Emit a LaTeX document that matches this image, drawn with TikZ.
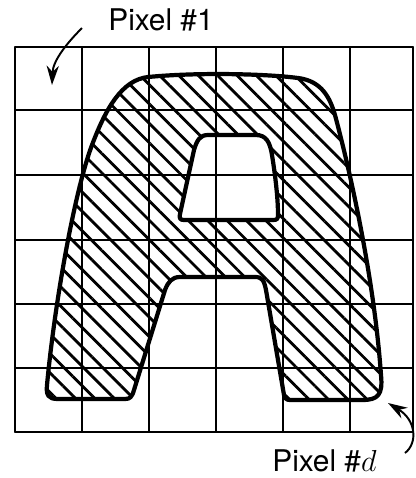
\documentclass[tikz,border=0pt]{standalone}
\usepackage{fontspec}
\setmainfont{TeX Gyre Heros}
\usetikzlibrary{arrows.meta, patterns.meta}

\begin{document}
\begin{tikzpicture}[
    x=0.02cm, y=-0.02cm,
    gridline/.style={line width=1.1pt, line cap=round},
    letter/.style={draw, line width=2.4pt, line join=round, even odd rule,
      pattern={Lines[angle=-45, distance=7.8pt, line width=1.6pt]}},
    callout/.style={line width=1.1pt, -{Stealth[length=11pt, width=7pt]}},
    tag/.style={font=\fontsize{17pt}{20pt}\selectfont, inner sep=0pt, anchor=base west}
  ]
  \useasboundingbox (0,0) rectangle (416,478);
  \fill[white] (0,0) rectangle (416,478);

  % Pixel grid
  \foreach \gx in {15,82,149,216,283,350,413}
    \draw[gridline] (\gx,47) -- (\gx,432);
  \foreach \gy in {47,110,175,240,304,368,432}
    \draw[gridline] (15,\gy) -- (413,\gy);

  % Letter A (outer contour + counter)
  \path[letter]
    (148,77) .. controls (200,72) and (268,74) .. (298,78)
    .. controls (322,81) and (330,98) .. (335,115)
    .. controls (355,190) and (375,290) .. (381,375)
    .. controls (383,395) and (378,400) .. (362,400)
    -- (290,400)
    .. controls (286,400) and (285,398) .. (284,395)
    -- (266,290)
    .. controls (264,280) and (262,277) .. (255,277)
    -- (180,277)
    .. controls (172,277) and (168,282) .. (165,290)
    -- (134,390)
    .. controls (132,397) and (130,399) .. (125,399)
    -- (58,399)
    .. controls (48,399) and (46,395) .. (47,385)
    .. controls (55,300) and (75,190) .. (92,145)
    .. controls (106,108) and (122,80) .. (148,77) -- cycle
    (208,135) -- (256,135)
    .. controls (266,135) and (270,142) .. (272,155)
    .. controls (276,180) and (278,200) .. (278,215)
    .. controls (278,219) and (277,220) .. (273,220)
    -- (184,220)
    .. controls (180,220) and (179,218) .. (180,214)
    -- (194,150)
    .. controls (197,140) and (200,135) .. (208,135) -- cycle;

  % Labels
  \node[tag] (pixfirst) at (108,30) {Pixel \#1};
  \node[tag] (pixlast) at (272,471) {Pixel \#$d$};
  \coordinate (firsttail) at (82,28);
  \coordinate (firstcell) at (52,85);
  \coordinate (lasttail) at (405,453);
  \coordinate (lastcell) at (388,403);

  % Callout arrows
  \draw[callout] (firsttail) .. controls (68,42) and (53,60) .. (firstcell);
  \draw[callout] (lasttail) .. controls (418,443) and (416,420) .. (lastcell);
\end{tikzpicture}
\end{document}
